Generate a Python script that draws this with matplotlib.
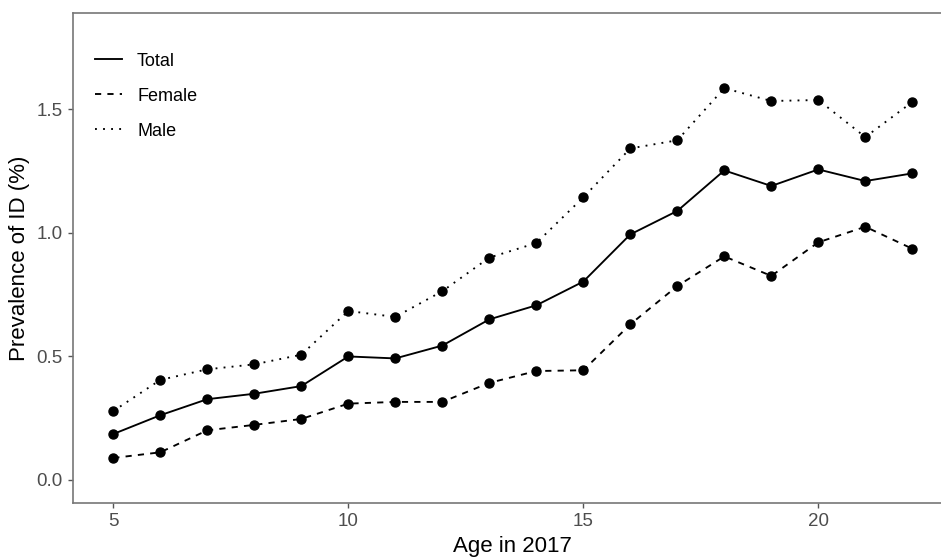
import matplotlib
matplotlib.use("Agg")
import matplotlib.pyplot as plt
from matplotlib.lines import Line2D

plt.rcParams['font.family'] = ['Liberation Sans', 'DejaVu Sans']

ages = [5, 6, 7, 8, 9, 10, 11, 12, 13, 14, 15, 16, 17, 18, 19, 20, 21, 22]

total = [0.186, 0.262, 0.327, 0.349, 0.380, 0.500, 0.492, 0.544, 0.650, 0.707,
         0.803, 0.994, 1.089, 1.253, 1.190, 1.257, 1.210, 1.241]
female = [0.089, 0.112, 0.201, 0.223, 0.247, 0.309, 0.316, 0.316, 0.393, 0.441,
          0.444, 0.630, 0.785, 0.905, 0.826, 0.962, 1.025, 0.936]
male = [0.279, 0.405, 0.448, 0.468, 0.507, 0.684, 0.660, 0.764, 0.900, 0.959,
        1.144, 1.342, 1.375, 1.586, 1.534, 1.538, 1.388, 1.530]

series_names = ['Total', 'Female', 'Male']

W, H = 941, 559
fig = plt.figure(figsize=(W / 100, H / 100), dpi=100)
# panel runs off the right edge of the canvas
ax = fig.add_axes([73 / W, 1 - 502.7 / H, (952.6 - 73) / W, (502.7 - 13.3) / H])

lw = 1.35
styles = {
    'Total': dict(linestyle='-'),
    'Female': dict(linestyle=(0, (3.3, 3.3))),
    'Male': dict(linestyle=(0, (1.0, 3.3))),
}

for name, vals in zip(series_names, [total, female, male]):
    ax.plot(ages, vals, color='black', lw=lw, **styles[name])
    ax.plot(ages, vals, 'o', color='black', markersize=6.5, linestyle='none')

ax.set_xlim(4.143, 22.857)
ax.set_ylim(-0.092, 1.889)
ax.set_xticks([5, 10, 15, 20])
ax.set_yticks([0.0, 0.5, 1.0, 1.5])
ax.set_yticklabels(['0.0', '0.5', '1.0', '1.5'])

for side in ['left', 'bottom', 'top']:
    ax.spines[side].set_color('#777777')
    ax.spines[side].set_linewidth(1.2)
ax.spines['right'].set_visible(False)

ax.tick_params(axis='both', colors='#555555', labelcolor='#4d4d4d',
               labelsize=13.5, length=3.3, width=1.0, pad=4)

ax.set_xlabel('Age in 2017', fontsize=16, color='black', labelpad=4.5)
ax.set_ylabel('Prevalence of ID (%)', fontsize=16, color='black', labelpad=5)

handles = [Line2D([], [], color='black', lw=lw, **styles[n]) for n in series_names]
ax.legend(handles, series_names, loc='upper left',
          bbox_to_anchor=(95 / W, 1 - 52.5 / H), bbox_transform=fig.transFigure,
          frameon=False, fontsize=13, handlelength=1.5, handletextpad=0.83,
          labelspacing=1.0, borderpad=0, borderaxespad=0)

fig.savefig('out.png', dpi=100, facecolor='white')
